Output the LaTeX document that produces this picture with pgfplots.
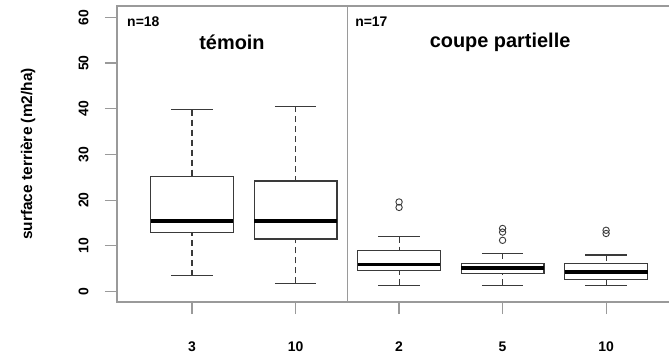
\documentclass[border=0pt]{standalone}
\usepackage{pgfplots}
\pgfplotsset{compat=1.18}
\usepgfplotslibrary{statistics}
\usepackage{fontspec}
\setmainfont{Liberation Sans}
\definecolor{frame}{HTML}{9A9A9A}
\definecolor{boxc}{HTML}{3A3A3A}
\pgfplotsset{
  rbox/.style={
    boxplot/draw direction=y,
    boxplot/box extend=0.8,
    boxplot/whisker extend=0.4,
    draw=boxc, line width=1.1bp, solid,
    mark=o, mark size=3.2bp, mark options={solid, draw=boxc, line width=0.9bp},
    boxplot/every median/.style={line width=3.8bp, black},
    boxplot/draw/lower whisker/.code={%
      \draw[dash pattern=on 6bp off 4bp] (boxplot box cs:\pgfplotsboxplotvalue{lower whisker},0.5) -- (boxplot box cs:\pgfplotsboxplotvalue{lower quartile},0.5);
      \draw[solid] (boxplot whisker cs:\pgfplotsboxplotvalue{lower whisker},0) -- (boxplot whisker cs:\pgfplotsboxplotvalue{lower whisker},1);
    },
    boxplot/draw/upper whisker/.code={%
      \draw[dash pattern=on 6bp off 4bp] (boxplot box cs:\pgfplotsboxplotvalue{upper whisker},0.5) -- (boxplot box cs:\pgfplotsboxplotvalue{upper quartile},0.5);
      \draw[solid] (boxplot whisker cs:\pgfplotsboxplotvalue{upper whisker},0) -- (boxplot whisker cs:\pgfplotsboxplotvalue{upper whisker},1);
    },
  },
}
\begin{document}
\begin{tikzpicture}
\useasboundingbox (0,0) rectangle (669bp,356bp);
\begin{axis}[
  at={(117bp,54bp)}, anchor=south west,
  scale only axis,
  width=560bp, height=296bp,
  xmin=-0.725, xmax=4.685,
  ymin=-2.3, ymax=62.5,
  clip=false,
  axis line style={draw=frame, line width=1.3bp},
  xtick={0,1,2,3,4},
  xticklabels={3,10,2,5,10},
  ytick={0,10,20,30,40,50,60},
  tick align=outside,
  xtick pos=bottom, ytick pos=left,
  major tick length=12bp,
  every tick/.style={draw=frame, line width=1.2bp},
  /pgf/number format/assume math mode=true,
  tick label style={font=\fontsize{14}{16}\selectfont\bfseries},
  yticklabel style={rotate=90, anchor=south},
  xticklabel shift=24bp,
  yticklabel shift=13bp,
  ylabel={surface terrière (m2/ha)},
  every axis y label/.style={at={(axis description cs:-0.159,0.5)}, rotate=90, anchor=center, font=\fontsize{15.5}{18}\selectfont\bfseries},
]
\addplot[rbox, boxplot prepared={draw position=0, lower whisker=3.5, lower quartile=13.0, median=15.4, upper quartile=25.1, upper whisker=39.8}] coordinates {};
\addplot[rbox, boxplot prepared={draw position=1, lower whisker=1.8, lower quartile=11.5, median=15.4, upper quartile=24.2, upper whisker=40.5}] coordinates {};
\addplot[rbox, boxplot prepared={draw position=2, lower whisker=1.4, lower quartile=4.5, median=5.9, upper quartile=8.9, upper whisker=12.0}] coordinates {(2,19.6) (2,18.4)};
\addplot[rbox, boxplot prepared={draw position=3, lower whisker=1.4, lower quartile=4.0, median=5.2, upper quartile=6.2, upper whisker=8.4}] coordinates {(3,13.8) (3,13.0) (3,11.2)};
\addplot[rbox, boxplot prepared={draw position=4, lower whisker=1.4, lower quartile=2.7, median=4.2, upper quartile=6.2, upper whisker=8.0}] coordinates {(4,13.4) (4,12.7)};
\draw[frame, line width=1.3bp] (axis cs:1.5,-2.3) -- (axis cs:1.5,62.5);
\node[font=\fontsize{20}{23}\selectfont\bfseries] at (axis cs:0.386,54.5) {témoin};
\node[font=\fontsize{20}{23}\selectfont\bfseries] at (axis cs:2.976,54.5) {coupe partielle};
\node[anchor=west, inner sep=0pt, font=\fontsize{14}{16}\selectfont\bfseries] at (axis cs:-0.628,59.1) {n=18};
\node[anchor=west, inner sep=0pt, font=\fontsize{14}{16}\selectfont\bfseries] at (axis cs:1.575,59.1) {n=17};
\end{axis}
\end{tikzpicture}
\end{document}
